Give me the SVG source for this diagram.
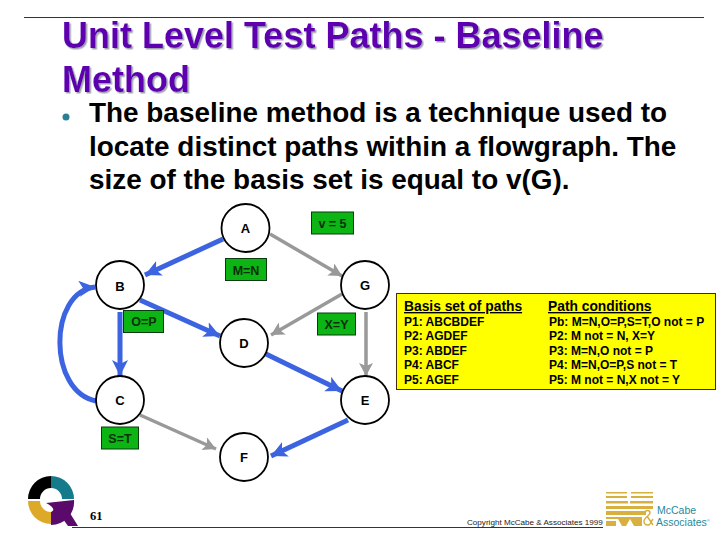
<svg xmlns="http://www.w3.org/2000/svg" width="720" height="540" viewBox="0 0 720 540">
<style>
text{font-family:"Liberation Sans",Arial,sans-serif}
.title{font-size:36px;font-weight:bold;fill:#5f00b0;filter:url(#ts)}
.body{font-size:27.900px;font-weight:bold;fill:#000}
.node circle{fill:#fff;stroke:#000;stroke-width:1.800}
.node text{font-size:13px;font-weight:bold;text-anchor:middle;fill:#000}
.cond rect{fill:#0cb414;stroke:#0a3a10;stroke-width:1}
.cond text{font-size:12.500px;font-weight:bold;text-anchor:middle;fill:#0a300a}
.blue{fill:none;stroke:#3c64e0;stroke-width:5}
.gray{fill:none;stroke:#999;stroke-width:3.500}
.tb{font-size:12px;font-weight:bold;fill:#000}
.th{font-size:13.800px;font-weight:bold;fill:#000;text-decoration:underline}
</style>
<defs>
<filter id="ts" x="-5%" y="-10%" width="110%" height="125%"><feDropShadow dx="1.500" dy="1.500" stdDeviation="0" flood-color="#a0a0b0"/></filter>
<marker id="ab" markerUnits="userSpaceOnUse" markerWidth="22" markerHeight="18" refX="16" refY="8" orient="auto"><path d="M0 0L16 8L0 16L4 8Z" fill="#3c64e0"/></marker>
<marker id="ag" markerUnits="userSpaceOnUse" markerWidth="20" markerHeight="16" refX="13" refY="7" orient="auto"><path d="M0 0L13 7L0 14L3 7Z" fill="#999"/></marker>
</defs>
<rect width="720" height="540" fill="#fff"/>
<line x1="24" y1="17.500" x2="704" y2="17.500" stroke="#5a1a5a" stroke-width="1"/>
<text class="title" x="62" y="48">Unit Level Test Paths - Baseline</text>
<text class="title" x="62" y="92">Method</text>
<circle cx="66" cy="117" r="3.500" fill="#2a7f96"/>
<text class="body" x="89" y="122">The baseline method is a technique used to</text>
<text class="body" x="89" y="155.500">locate distinct paths within a flowgraph. The</text>
<text class="body" x="89" y="189">size of the basis set is equal to v(G).</text>

<g id="connectors">
<path class="blue" marker-end="url(#ab)" d="M223 239L145 275"/>
<path class="gray" marker-end="url(#ag)" d="M270 234L342 276"/>
<path class="blue" marker-end="url(#ab)" d="M140 300L220 336"/>
<path class="gray" marker-end="url(#ag)" d="M342 294L271 335"/>
<path class="blue" marker-end="url(#ab)" d="M120 312L120 376"/>
<path class="gray" marker-end="url(#ag)" d="M366 312L366 376"/>
<path class="blue" marker-end="url(#ab)" d="M266 354L342 391"/>
<path class="blue" marker-end="url(#ab)" d="M96 401C48 392 48 292 95 287"/>
<path class="gray" marker-end="url(#ag)" d="M140 415L216 449"/>
<path class="blue" marker-end="url(#ab)" d="M348 420L271 456"/>
</g>

<g id="node-A" class="node"><circle cx="245.500" cy="228" r="24"/><text x="245.500" y="233">A</text></g>
<g id="node-B" class="node"><circle cx="120" cy="285" r="24"/><text x="120" y="291">B</text></g>
<g id="node-G" class="node"><circle cx="365" cy="285" r="24"/><text x="365" y="290">G</text></g>
<g id="node-D" class="node"><circle cx="244" cy="343" r="24"/><text x="244" y="348">D</text></g>
<g id="node-C" class="node"><circle cx="120" cy="400" r="24"/><text x="120" y="405">C</text></g>
<g id="node-E" class="node"><circle cx="365" cy="400" r="24"/><text x="365" y="405">E</text></g>
<g id="node-F" class="node"><circle cx="244" cy="457" r="24"/><text x="244" y="462">F</text></g>

<g id="cond-v" class="cond"><rect x="311.500" y="212" width="42" height="22"/><text x="332.500" y="228">v = 5</text></g>
<g id="cond-MN" class="cond"><rect x="225.500" y="258.500" width="41" height="22"/><text x="246" y="275">M=N</text></g>
<g id="cond-OP" class="cond"><rect x="123.500" y="310.500" width="40" height="22"/><text x="144" y="326">O=P</text></g>
<g id="cond-XY" class="cond"><rect x="317.500" y="313" width="38" height="22"/><text x="336.500" y="329">X=Y</text></g>
<g id="cond-ST" class="cond"><rect x="101.500" y="427" width="37" height="22"/><text x="120" y="443">S=T</text></g>

<g id="paths-table">
<rect x="396.500" y="293.500" width="319" height="96" fill="#ffff00" stroke="#4a2a10" stroke-width="1"/>
<text class="th" x="404" y="311">Basis set of paths</text>
<text class="th" x="548" y="311">Path conditions</text>
<text class="tb" x="404" y="326">P1: ABCBDEF</text>
<text class="tb" x="404" y="340">P2: AGDEF</text>
<text class="tb" x="404" y="355">P3: ABDEF</text>
<text class="tb" x="404" y="369">P4: ABCF</text>
<text class="tb" x="404" y="384">P5: AGEF</text>
<text class="tb" x="549" y="326">Pb: M=N,O=P,S=T,O not = P</text>
<text class="tb" x="549" y="340">P2: M not = N, X=Y</text>
<text class="tb" x="549" y="355">P3: M=N,O not = P</text>
<text class="tb" x="549" y="369">P4: M=N,O=P,S not = T</text>
<text class="tb" x="549" y="384">P5: M not = N,X not = Y</text>
</g>

<g id="q-logo">
<path d="M28 499A23 23 0 0 1 51 476L51 488A11 11 0 0 0 40 499Z" fill="#000"/>
<path d="M51 476A23 23 0 0 1 74 499L62 499A11 11 0 0 0 51 488Z" fill="#157a8c"/>
<path d="M28 501A23 23 0 0 0 51 524L51 512A11 11 0 0 1 40 501Z" fill="#dcaa28"/>
<path d="M74 500A23 23 0 0 1 51 525L51 512C56 510 52 506 46 503L74 500Z" fill="#5a0a6a"/>
<path d="M58 512L68 526L78 526L68 510Z" fill="#5a0a6a"/>
</g>
<text x="90" y="520" font-size="12.500" font-weight="bold" style="font-family:'Liberation Serif',serif">61</text>
<line x1="72" y1="527.500" x2="603" y2="527.500" stroke="#5a1a5a" stroke-width="1"/>
<text x="467" y="525" font-size="8.100" fill="#222">Copyright McCabe &amp; Associates 1999</text>

<g id="mccabe-logo" fill="#d8b040">
<rect x="606" y="492" width="21" height="1.500"/><rect x="631" y="492" width="22" height="1.500"/>
<rect x="606" y="496" width="21" height="2"/><rect x="631" y="496" width="22" height="2"/>
<rect x="606" y="501" width="22" height="2.500"/><rect x="630" y="501" width="23" height="2.500"/>
<rect x="606" y="506" width="47" height="3"/>
<rect x="606" y="511" width="40" height="4"/>
<path d="M606 517H642V526H634L630 519L626 526H622L618 519H606Z"/>
<rect x="606" y="521" width="10" height="5"/>
<path d="M645 513a2.500 2.500 0 1 1 5 0c0 2-6 5-6 8a3.500 3.500 0 0 0 7 1l2-3M647 516l6 9" fill="none" stroke="#d8b040" stroke-width="1.500"/>
</g>
<text x="657" y="514" font-size="10.500" fill="#1f8a9e">McCabe</text>
<text x="656" y="526" font-size="10.500" fill="#1f8a9e">Associates<tspan font-size="4" dy="-4">®</tspan></text>
</svg>
